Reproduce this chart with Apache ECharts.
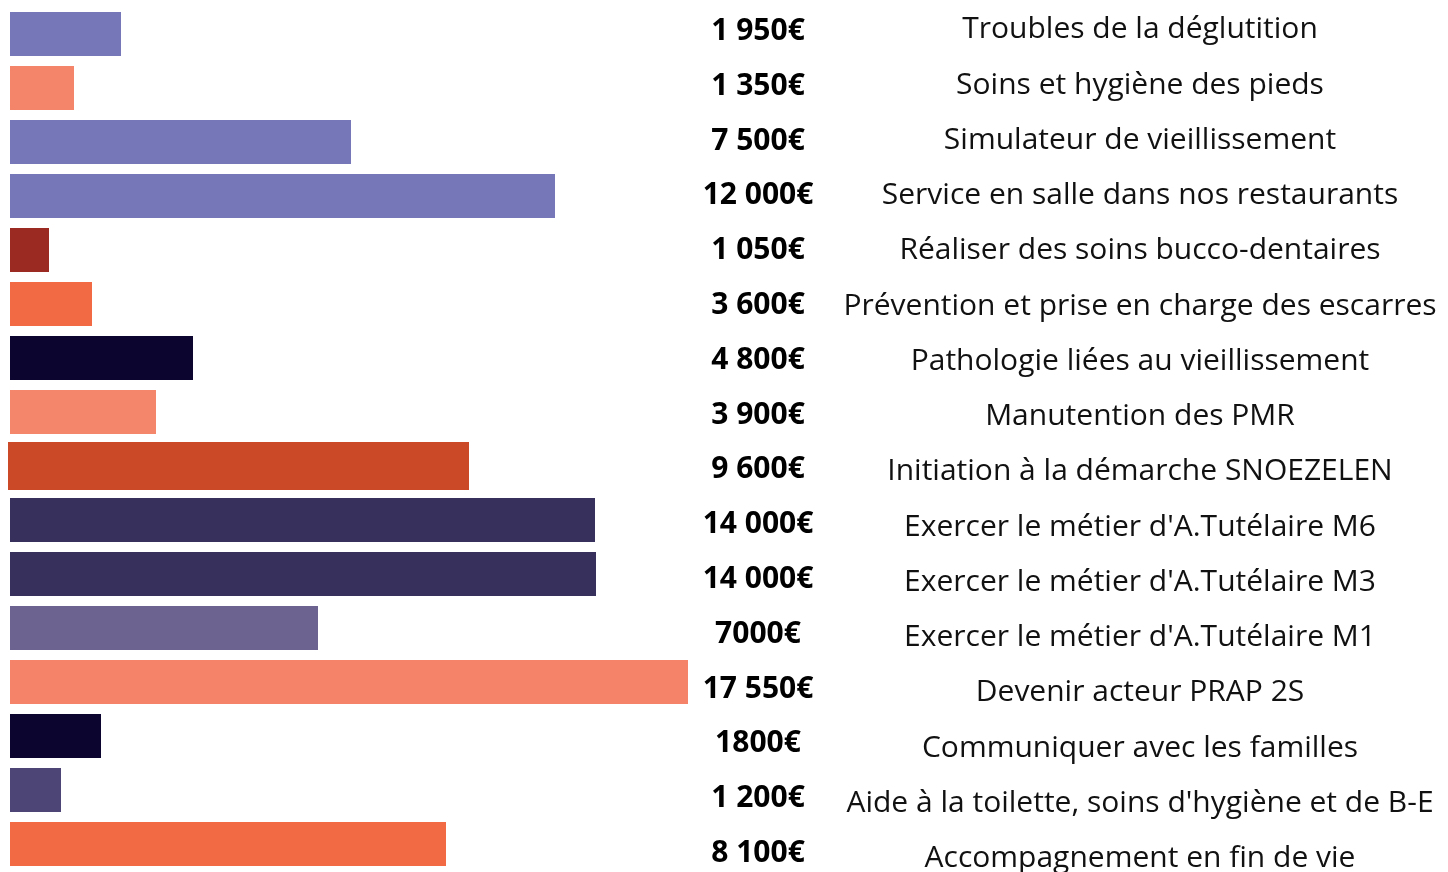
<!DOCTYPE html>
<html>
<head>
<meta charset="utf-8">
<script src="https://cdn.jsdelivr.net/npm/echarts@6/dist/echarts.min.js"></script>
<style>
html,body{margin:0;padding:0;background:#fff;}
#chart{width:1448px;height:872px;}
</style>
</head>
<body>
<div id="chart"></div>
<script>
const categories = [
  "Troubles de la déglutition",
  "Soins et hygiène des pieds",
  "Simulateur de vieillissement",
  "Service en salle dans nos restaurants",
  "Réaliser des soins bucco-dentaires",
  "Prévention et prise en charge des escarres",
  "Pathologie liées au vieillissement",
  "Manutention des PMR",
  "Initiation à la démarche SNOEZELEN",
  "Exercer le métier d'A.Tutélaire M6",
  "Exercer le métier d'A.Tutélaire M3",
  "Exercer le métier d'A.Tutélaire M1",
  "Devenir acteur PRAP 2S",
  "Communiquer avec les familles",
  "Aide à la toilette, soins d'hygiène et de B-E",
  "Accompagnement en fin de vie"
];
const amountLabels = [
  "1 950€", "1 350€", "7 500€", "12 000€", "1 050€", "3 600€", "4 800€", "3 900€",
  "9 600€", "14 000€", "14 000€", "7000€", "17 550€", "1800€", "1 200€", "8 100€"
];
// visual bar lengths (arbitrary units)
const barValues = [111, 64, 341, 545, 39, 82, 183, 146, 459, 585, 586, 308, 678, 91, 51, 436];
const barColors = [
  "#7577b9", "#f4846a", "#7577b9", "#7577b9", "#9b2a22", "#f26a43", "#0c0530", "#f4866b",
  "#cc4927", "#37305c", "#37305c", "#6c6390", "#f4836a", "#0c0530", "#4e4577", "#f26a43"
];
// the one bar drawn slightly larger in the picture
const wideBarIndex = 8;

const chart = echarts.init(document.getElementById('chart'), null, {renderer: 'canvas'});
const hiddenX = (gi) => ({type: 'value', min: 0, max: 678, show: false, gridIndex: gi});
const labelAxis = (gi, data, margin, extra) => ({
  type: 'category', data: data, inverse: true, position: 'right', gridIndex: gi,
  axisLine: {show: false}, axisTick: {show: false}, splitLine: {show: false},
  axisLabel: Object.assign({margin: margin, align: 'center', fontFamily: 'Open Sans', fontSize: 30}, extra)
});
chart.setOption({
  animation: false,
  backgroundColor: '#ffffff',
  grid: [
    {left: 10, top: 7, width: 678, height: 864, outerBoundsMode: 'none'},
    {left: 10, top: 2.3, width: 678, height: 884, outerBoundsMode: 'none'},
    {left: 10, top: 4.2, width: 678, height: 876.5, outerBoundsMode: 'none'},
    {left: 8, top: 7, width: 678, height: 864, outerBoundsMode: 'none'}
  ],
  xAxis: [hiddenX(0), hiddenX(1), hiddenX(2), hiddenX(3)],
  yAxis: [
    {type: 'category', data: categories, inverse: true, gridIndex: 0, show: false},
    labelAxis(1, categories, 452, {color: '#111111'}),
    labelAxis(2, amountLabels, 70, {color: '#000000', fontWeight: 'bold'}),
    {type: 'category', data: categories, inverse: true, gridIndex: 3, show: false}
  ],
  series: [
    {
      type: 'bar',
      xAxisIndex: 0,
      yAxisIndex: 0,
      barWidth: 44,
      data: barValues.map((v, i) => ({value: v, itemStyle: {color: barColors[i]}}))
    },
    {
      type: 'bar',
      xAxisIndex: 3,
      yAxisIndex: 3,
      barWidth: 48,
      data: barValues.map((v, i) => i === wideBarIndex
        ? {value: v + 2, itemStyle: {color: barColors[i]}}
        : '-')
    }
  ]
});
</script>
</body>
</html>
